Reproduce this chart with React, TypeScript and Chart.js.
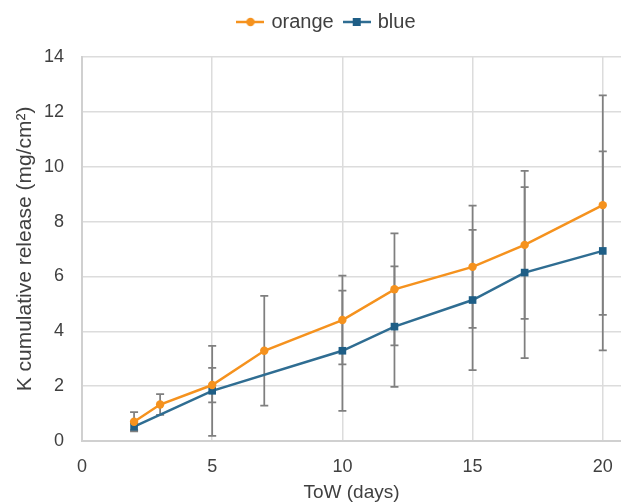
import React, { useEffect, useRef } from "react";
import { Chart, registerables } from "chart.js";

Chart.register(...registerables);

// ---- data ----
const orangeDays = [2, 3, 5, 7, 10, 12, 15, 17, 20];
const orangeValues = [0.7, 1.33, 2.04, 3.29, 4.41, 5.53, 6.35, 7.15, 8.6];
const orangeErrors = [0.35, 0.38, 0.63, 2.0, 1.62, 2.04, 2.23, 2.7, 4.0];

const blueDays = [2, 5, 10, 12, 15, 17, 20];
const blueValues = [0.52, 1.83, 3.29, 4.17, 5.14, 6.14, 6.93];
const blueErrors = [0.12, 1.64, 2.19, 2.2, 2.56, 3.12, 3.63];

const xTickValues = [0, 5, 10, 15, 20];
const seriesNames = ["orange", "blue"];

const ORANGE = "#F5921E";
const BLUE_LINE = "#2F6D92";
const BLUE_MARK = "#1E5E86";
const TEXT = "#404040";
const GRID = "#dcdcdc";
const FONT = "'Liberation Sans', Arial, sans-serif";

function legendImage(color: string, markColor: string, square: boolean) {
  const c = document.createElement("canvas");
  c.width = 28;
  c.height = 12;
  const ctx = c.getContext("2d")!;
  ctx.strokeStyle = color;
  ctx.lineWidth = 2.5;
  ctx.beginPath();
  ctx.moveTo(0, 6);
  ctx.lineTo(28, 6);
  ctx.stroke();
  ctx.fillStyle = markColor;
  if (square) {
    ctx.fillRect(10, 2, 8, 8);
  } else {
    ctx.beginPath();
    ctx.arc(14, 6, 4.2, 0, Math.PI * 2);
    ctx.fill();
  }
  return c;
}

const errorBarPlugin = {
  id: "errorBars",
  beforeDatasetsDraw(chart: any) {
    const { ctx, scales } = chart;
    const xs = scales.x;
    const ys = scales.y;
    const sets = [
      { d: orangeDays, v: orangeValues, e: orangeErrors },
      { d: blueDays, v: blueValues, e: blueErrors },
    ];
    ctx.save();
    ctx.strokeStyle = "#7f7f7f";
    ctx.lineWidth = 1.75;
    sets.forEach((s) => {
      s.d.forEach((day, i) => {
        const err = s.e[i];
        if (!err) return;
        const px = xs.getPixelForValue(day);
        const top = ys.getPixelForValue(s.v[i] + err);
        const bot = ys.getPixelForValue(s.v[i] - err);
        ctx.beginPath();
        ctx.moveTo(px, top);
        ctx.lineTo(px, bot);
        ctx.moveTo(px - 4, top);
        ctx.lineTo(px + 4, top);
        ctx.moveTo(px - 4, bot);
        ctx.lineTo(px + 4, bot);
        ctx.stroke();
      });
    });
    ctx.restore();
  },
};

const layoutPlugin = {
  id: "layoutTweak",
  beforeInit(chart: any) {
    const origFit = chart.legend.fit;
    chart.legend.fit = function () {
      origFit.bind(chart.legend)();
      this.height = 57;
    };
  },
  afterLayout(chart: any) {
    const ca = chart.chartArea;
    ca.right = chart.width;
    ca.width = ca.right - ca.left;
    const xs = chart.scales.x;
    xs.right = chart.width;
    xs.width = xs.right - xs.left;
    xs.configure();
  },
  beforeDraw(chart: any) {
    chart.legend.left = 34;
  },
};

export default function App() {
  const ref = useRef<HTMLCanvasElement>(null);

  useEffect(() => {
    if (!ref.current) return;
    const imgs = [
      legendImage(ORANGE, ORANGE, false),
      legendImage(BLUE_LINE, BLUE_MARK, true),
    ];
    const chart = new Chart(ref.current, {
      type: "line",
      data: {
        datasets: [
          {
            label: seriesNames[0],
            data: orangeDays.map((d, i) => ({ x: d, y: orangeValues[i] })),
            borderColor: ORANGE,
            backgroundColor: ORANGE,
            borderWidth: 2.5,
            pointStyle: "circle",
            pointRadius: 4.2,
            pointBorderWidth: 0,
            pointBackgroundColor: ORANGE,
            tension: 0,
          },
          {
            label: seriesNames[1],
            data: blueDays.map((d, i) => ({ x: d, y: blueValues[i] })),
            borderColor: BLUE_LINE,
            backgroundColor: BLUE_MARK,
            borderWidth: 2.5,
            pointStyle: "rect",
            pointRadius: 5.4,
            pointBorderWidth: 0,
            pointBackgroundColor: BLUE_MARK,
            tension: 0,
          },
        ],
      },
      options: {
        animation: false,
        responsive: true,
        maintainAspectRatio: false,
        layout: { padding: { left: 0, right: 0, top: 0, bottom: 0 } },
        plugins: {
          legend: {
            position: "top",
            labels: {
              usePointStyle: true,
              pointStyleWidth: 22,
              boxHeight: 12,
              padding: 12,
              color: TEXT,
              font: { family: FONT, size: 20 },
              generateLabels: (ch: any) =>
                ch.data.datasets.map((ds: any, i: number) => ({
                  text: ds.label,
                  pointStyle: imgs[i],
                  fillStyle: ds.borderColor,
                  strokeStyle: ds.borderColor,
                  lineWidth: 0,
                  hidden: false,
                  datasetIndex: i,
                  fontColor: TEXT,
                })),
            },
          },
          tooltip: { enabled: false },
        },
        scales: {
          x: {
            type: "linear",
            min: 0,
            max: 20.7,
            afterBuildTicks: (s: any) => {
              s.ticks = xTickValues.map((v) => ({ value: v }));
            },
            afterFit: (s: any) => {
              s.height = 63;
            },
            grid: { color: GRID, lineWidth: 1.5, drawTicks: false },
            border: { color: "#d0d0d0", width: 2 },
            ticks: {
              color: TEXT,
              padding: 15,
              font: { family: FONT, size: 18 },
            },
            title: {
              display: true,
              text: "ToW (days)",
              color: TEXT,
              font: { family: FONT, size: 19 },
              padding: { top: 0, bottom: 0 },
            },
          },
          y: {
            type: "linear",
            min: 0,
            max: 14,
            afterFit: (s: any) => {
              s.width = 82;
            },
            grid: { color: GRID, lineWidth: 1.5, drawTicks: false },
            border: { color: "#d0d0d0", width: 2 },
            ticks: {
              stepSize: 2,
              color: TEXT,
              padding: 18,
              font: { family: FONT, size: 18 },
            },
            title: {
              display: true,
              text: "K cumulative release (mg/cm²)",
              color: TEXT,
              font: { family: FONT, size: 21 },
              padding: { top: 13, bottom: 0 },
            },
          },
        },
      },
      plugins: [errorBarPlugin, layoutPlugin],
    } as any);
    return () => chart.destroy();
  }, []);

  return (
    <div style={{ position: "fixed", left: 0, top: 0, width: 621, height: 504, background: "#fff" }}>
      <canvas ref={ref} />
    </div>
  );
}
